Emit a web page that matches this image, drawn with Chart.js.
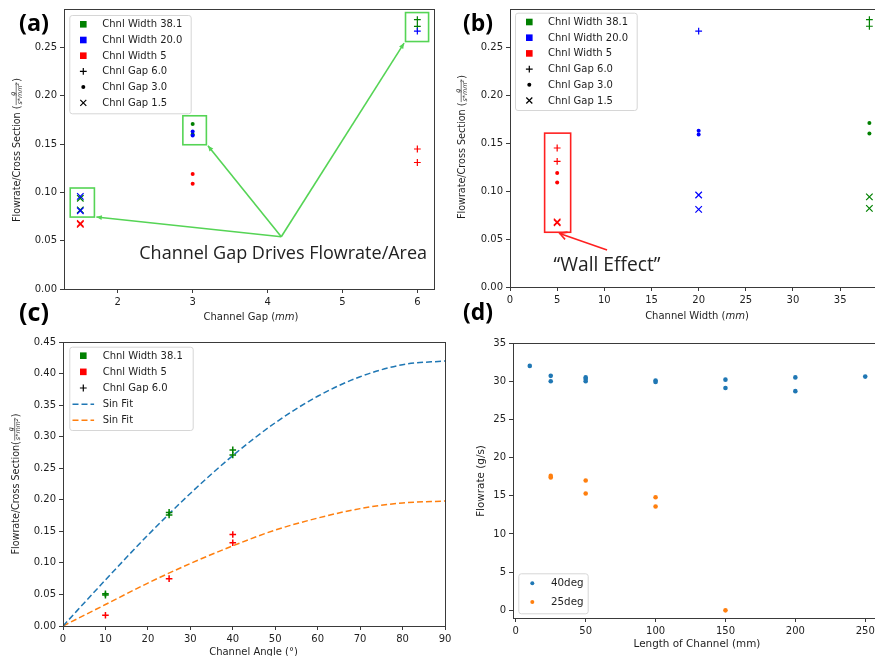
<!DOCTYPE html>
<html><head><meta charset="utf-8">
<script src="https://cdn.jsdelivr.net/npm/chart.js@4.4.1/dist/chart.umd.min.js"></script>
<style>
html,body{margin:0;padding:0;background:#fff;}
body{width:875px;height:656px;overflow:hidden;position:relative;}
canvas{position:absolute;display:block;}
</style></head><body>
<canvas id="ca" width="440" height="330" style="left:0;top:0"></canvas>
<canvas id="cb" width="460" height="330" style="left:440px;top:0"></canvas>
<canvas id="cc" width="460" height="356" style="left:0;top:300px"></canvas>
<canvas id="cd" width="440" height="356" style="left:460px;top:300px"></canvas>
<script>
// ---------------- data ----------------
// panels (a) and (b): flowrate / cross section, per channel width, grouped by channel gap (6.0, 3.0, 1.5)
const widthLabels = ['38.1', '20.0', '5'];
const widthValues = [38.1, 20.0, 5];
const gapLabels = ['6.0', '3.0', '1.5'];
const gapValues = [6.0, 3.0, 1.5];
const fcsW381 = [[0.279, 0.272], [0.171, 0.160], [0.094, 0.082]];
const fcsW20 = [[0.267], [0.163, 0.159], [0.096, 0.081]];
const fcsW5 = [[0.145, 0.131], [0.119, 0.109], [0.068, 0.067]];

// panel (c): flowrate / cross section vs channel angle (gap 6.0)
const angleValues = [10, 25, 40];
const angW381 = [[0.051, 0.049], [0.180, 0.176], [0.279, 0.271]];
const angW5 = [[0.017], [0.075], [0.145, 0.132]];
const fitAngles = [0, 10, 20, 30, 40, 50, 60, 70, 80, 90];
const sinFitW381 = [0, 0.073, 0.144, 0.210, 0.270, 0.322, 0.364, 0.395, 0.414, 0.420];
const sinFitW5 = [0, 0.034, 0.068, 0.099, 0.127, 0.152, 0.171, 0.186, 0.195, 0.198];

// panel (d): flowrate vs length of channel
const len40 = [10, 25, 25, 50, 50, 50, 100, 100, 150, 150, 200, 200, 250];
const flow40 = [32.0, 30.7, 30.0, 30.5, 30.3, 30.0, 30.1, 29.9, 30.2, 29.1, 30.5, 28.7, 30.6];
const len25 = [25, 25, 50, 50, 100, 100, 150];
const flow25 = [17.6, 17.4, 17.0, 15.3, 14.8, 13.6, 0.0];

// ---------------- styles ----------------
const FONT = '"DejaVu Sans", Verdana, sans-serif';
const TXT = '#1e1e1e', AX = '#3a3a3a';
const widthColors = ['#008000', '#0000ff', '#ff0000'];
const gapStyles = ['cross', 'circle', 'crossRot'];
const gapLegendMarks = ['plus', 'dot', 'x'];

function markerOpts(style, color) {
  if (style === 'circle') return {pointStyle: 'circle', pointRadius: 2, borderWidth: 0, pointBorderWidth: 0, backgroundColor: color, borderColor: color};
  if (style === 'cross') return {pointStyle: 'cross', pointRadius: 3.4, borderWidth: 1.2, pointBorderWidth: 1.2, backgroundColor: color, borderColor: color};
  return {pointStyle: 'crossRot', pointRadius: 4.6, borderWidth: 1.2, pointBorderWidth: 1.2, backgroundColor: color, borderColor: color};
}

function axis(min, max, step, fmt, fitKey, fitVal) {
  return {
    type: 'linear', min: min, max: max,
    afterFit: function (s) { s[fitKey] = fitVal; },
    grid: {display: true, drawOnChartArea: false, drawTicks: true, tickLength: 4, color: AX, lineWidth: 1},
    border: {display: true, color: AX, width: 1},
    ticks: {stepSize: step, includeBounds: false, autoSkip: false, maxRotation: 0, minRotation: 0, padding: 3,
      color: TXT, font: {family: FONT, size: 10}, callback: fmt}
  };
}
const f2 = v => Number(v).toFixed(2);
const f0 = v => String(Math.round(v));

// ---------------- drawing helpers ----------------
function drawFrame(chart) {
  const c = chart.ctx, a = chart.chartArea;
  c.save(); c.strokeStyle = AX; c.lineWidth = 1;
  c.strokeRect(Math.round(a.left) + 0.5, Math.round(a.top) + 0.5, Math.round(a.right - a.left), Math.round(a.bottom - a.top));
  c.restore();
}
function drawMark(c, type, color, x, y) {
  c.save(); c.fillStyle = color; c.strokeStyle = color; c.lineWidth = 1.2;
  if (type === 'square') c.fillRect(x - 3.3, y - 3.3, 6.6, 6.6);
  else if (type === 'plus') { c.beginPath(); c.moveTo(x - 3.4, y); c.lineTo(x + 3.4, y); c.moveTo(x, y - 3.4); c.lineTo(x, y + 3.4); c.stroke(); }
  else if (type === 'dot') { c.beginPath(); c.arc(x, y, 2, 0, Math.PI * 2); c.fill(); }
  else if (type === 'x') { c.beginPath(); c.moveTo(x - 3, y - 3); c.lineTo(x + 3, y + 3); c.moveTo(x - 3, y + 3); c.lineTo(x + 3, y - 3); c.stroke(); }
  else if (type === 'dash') { c.lineWidth = 1.5; c.setLineDash([6, 3]); c.beginPath(); c.moveTo(x - 10.8, y); c.lineTo(x + 10.8, y); c.stroke(); }
  c.restore();
}
function roundRect(c, x, y, w, h, r) {
  c.beginPath(); c.moveTo(x + r, y); c.lineTo(x + w - r, y); c.quadraticCurveTo(x + w, y, x + w, y + r);
  c.lineTo(x + w, y + h - r); c.quadraticCurveTo(x + w, y + h, x + w - r, y + h); c.lineTo(x + r, y + h);
  c.quadraticCurveTo(x, y + h, x, y + h - r); c.lineTo(x, y + r); c.quadraticCurveTo(x, y, x + r, y); c.closePath();
}
function drawLegend(c, box, items, markX, textX, row0, step, fontSize) {
  c.save();
  roundRect(c, box[0] + 0.5, box[1] + 0.5, box[2], box[3], 2.5);
  c.fillStyle = 'rgba(255,255,255,0.85)'; c.fill();
  c.strokeStyle = '#d6d6d6'; c.lineWidth = 1; c.stroke();
  c.font = fontSize + 'px ' + FONT; c.fillStyle = TXT; c.textBaseline = 'middle'; c.textAlign = 'left';
  items.forEach((it, i) => {
    const y = row0 + i * step;
    drawMark(c, it.mark, it.color, markX, y);
    c.fillStyle = TXT; c.fillText(it.text, textX, y + 0.5);
  });
  c.restore();
}
function drawTitleParts(c, parts, cx, cy, rotate) {
  c.save(); c.translate(cx, cy); if (rotate) c.rotate(-Math.PI / 2);
  c.fillStyle = TXT; c.textBaseline = 'middle'; c.textAlign = 'left';
  let W = 0;
  parts.forEach(p => { c.font = p.font; W += c.measureText(p.t).width; });
  let x = -W / 2;
  parts.forEach(p => { c.font = p.font; c.fillText(p.t, x, 0); x += c.measureText(p.t).width; });
  c.restore();
}
function drawYTitleFrac(c, main, cx, cy, size) {
  const f = size + 'px ' + FONT, fs = 'italic 6.4px ' + FONT, fsup = 'italic 4.6px ' + FONT;
  c.save(); c.translate(cx, cy); c.rotate(-Math.PI / 2);
  c.fillStyle = TXT; c.strokeStyle = TXT; c.textBaseline = 'middle';
  c.font = f; const wMain = c.measureText(main).width, wP = c.measureText(')').width;
  c.font = fs; const wDen = c.measureText('s*mm').width;
  c.font = fsup; const wSup = c.measureText('2').width;
  const wFrac = wDen + wSup + 2;
  const W = wMain + wFrac + wP;
  let x = -W / 2;
  c.font = f; c.fillText(main, x, 0); x += wMain;
  c.font = fs; c.textAlign = 'center'; c.fillText('g', x + wFrac / 2, -4.6);
  c.textAlign = 'left'; c.fillText('s*mm', x + 1, 2.6);
  c.font = fsup; c.fillText('2', x + 1 + wDen, 0.6);
  c.lineWidth = 0.6; c.beginPath(); c.moveTo(x + 0.5, -1.3); c.lineTo(x + wFrac - 0.5, -1.3); c.stroke();
  x += wFrac;
  c.font = f; c.fillText(')', x, 0);
  c.restore();
}
function fitText(c, text, x, y, width, font, color) {
  c.save(); c.font = font.replace('SIZE', '20px'); const w = c.measureText(text).width;
  c.font = font.replace('SIZE', (20 * width / w).toFixed(2) + 'px');
  c.fillStyle = color; c.textBaseline = 'alphabetic'; c.textAlign = 'left'; c.fillText(text, x, y); c.restore();
}
function arrow(c, x0, y0, x1, y1, color, lw, head, filled) {
  c.save(); c.strokeStyle = color; c.fillStyle = color; c.lineWidth = lw;
  c.beginPath(); c.moveTo(x0, y0); c.lineTo(x1, y1); c.stroke();
  const a = Math.atan2(y1 - y0, x1 - x0), w = filled ? 0.42 : 0.5;
  const p1 = [x1 - head * Math.cos(a - w), y1 - head * Math.sin(a - w)];
  const p2 = [x1 - head * Math.cos(a + w), y1 - head * Math.sin(a + w)];
  c.beginPath(); c.moveTo(p1[0], p1[1]); c.lineTo(x1, y1); c.lineTo(p2[0], p2[1]);
  if (filled) { c.closePath(); c.fill(); } else c.stroke();
  c.restore();
}
function px(chart, x, y) { return [chart.scales.x.getPixelForValue(x), chart.scales.y.getPixelForValue(y)]; }
function boxPx(chart, b, color, lw) {
  const p0 = px(chart, b[0], b[3]), p1 = px(chart, b[1], b[2]);
  const c = chart.ctx; c.save(); c.strokeStyle = color; c.lineWidth = lw;
  c.strokeRect(p0[0], p0[1], p1[0] - p0[0], p1[1] - p0[1]); c.restore();
}
const PANEL_FONT = 'bold SIZE "Open Sans", "Liberation Sans", sans-serif';
const NOTE_FONT = 'SIZE "Open Sans", Lato, sans-serif';

// ---------------- annotations (data units) ----------------
const annoA = {
  boxes: [[1.365, 1.688, 0.0745, 0.1046], [2.869, 3.183, 0.1494, 0.1794], [5.842, 6.15, 0.2563, 0.2863]],
  origin: [4.183, 0.0541], tips: [[1.714, 0.0745], [3.204, 0.1483], [5.823, 0.2547]],
  text: 'Channel Gap Drives Flowrate/Area', at: [2.287, 0.0314], width: 288, color: '#55d455'
};
const annoB = {
  box: [3.67, 6.43, 0.0571, 0.1605], from: [10.29, 0.0386], to: [5.27, 0.0559],
  text: '\u201CWall Effect\u201D', at: [4.62, 0.0172], width: 107, color: '#ff2020'
};

// ---------------- legend items ----------------
const legendAB = widthLabels.map((w, i) => ({mark: 'square', color: widthColors[i], text: 'Chnl Width ' + w}))
  .concat(gapLabels.map((g, j) => ({mark: gapLegendMarks[j], color: '#000', text: 'Chnl Gap ' + g})));
const legendC = [
  {mark: 'square', color: widthColors[0], text: 'Chnl Width ' + widthLabels[0]},
  {mark: 'square', color: widthColors[2], text: 'Chnl Width ' + widthLabels[2]},
  {mark: 'plus', color: '#000', text: 'Chnl Gap ' + gapLabels[0]},
  {mark: 'dash', color: '#1f77b4', text: 'Sin Fit'},
  {mark: 'dash', color: '#ff7f0e', text: 'Sin Fit'}
];
const legendD = [{mark: 'dot', color: '#1f77b4', text: '40deg'}, {mark: 'dot', color: '#ff7f0e', text: '25deg'}];

// ---------------- datasets ----------------
const fcsAll = [fcsW381, fcsW20, fcsW5];
function gapDatasets(useWidthAsX) {
  const out = [];
  [2, 1, 0].forEach(i => {            // red, blue, green (first listed is drawn on top)
    gapValues.forEach((g, j) => {
      out.push(Object.assign({
        label: 'Chnl Width ' + widthLabels[i] + ' / Gap ' + gapLabels[j],
        data: fcsAll[i][j].map(v => ({x: useWidthAsX ? widthValues[i] : g, y: v}))
      }, markerOpts(gapStyles[j], widthColors[i])));
    });
  });
  return out;
}
const baseOpts = (pad, xs, ys) => ({
  responsive: false, animation: false, devicePixelRatio: 1, events: [],
  layout: {padding: pad},
  plugins: {legend: {display: false}, tooltip: {enabled: false}},
  scales: {x: xs, y: ys}
});

// ---------------- panel (a) ----------------
new Chart(document.getElementById('ca'), {
  type: 'scatter',
  data: {datasets: gapDatasets(false)},
  options: baseOpts({left: 0, top: 9, right: 2, bottom: 0},
    axis(1.282, 6.225, 1, f0, 'height', 41), axis(0, 0.29, 0.05, f2, 'width', 64)),
  plugins: [{id: 'decoA', afterDraw(chart) {
    const c = chart.ctx; drawFrame(chart);
    const o = px(chart, annoA.origin[0], annoA.origin[1]);
    annoA.boxes.forEach(b => boxPx(chart, b, annoA.color, 1.6));
    annoA.tips.forEach(t => { const p = px(chart, t[0], t[1]); arrow(c, o[0], o[1], p[0], p[1], annoA.color, 1.6, 6, true); });
    const tp = px(chart, annoA.at[0], annoA.at[1]);
    fitText(c, annoA.text, tp[0], tp[1], annoA.width, NOTE_FONT, '#222');
    drawLegend(c, [69.3, 15, 121.4, 98.3], legendAB, 83.3, 102.3, 24.3, 15.7, 10);
    drawTitleParts(c, [{t: 'Channel Gap (', font: '10px ' + FONT}, {t: 'mm', font: 'italic 10px ' + FONT}, {t: ')', font: '10px ' + FONT}], 251, 317.5, false);
    drawYTitleFrac(c, 'Flowrate/Cross Section (', 17.5, 150, 9.6);
    fitText(c, '(a)', 19, 30.8, 30, PANEL_FONT, '#000');
  }}]
});

// ---------------- panel (b) ----------------
new Chart(document.getElementById('cb'), {
  type: 'scatter',
  data: {datasets: gapDatasets(true)},
  options: baseOpts({left: 0, top: 7, right: 15, bottom: 0},
    axis(0, 39.755, 5, f0, 'height', 43), axis(0, 0.29, 0.05, f2, 'width', 70)),
  plugins: [{id: 'decoB', afterDraw(chart) {
    const c = chart.ctx; drawFrame(chart);
    boxPx(chart, annoB.box, annoB.color, 1.6);
    const p0 = px(chart, annoB.from[0], annoB.from[1]), p1 = px(chart, annoB.to[0], annoB.to[1]);
    arrow(c, p0[0], p0[1], p1[0], p1[1], annoB.color, 1.6, 8, false);
    const tp = px(chart, annoB.at[0], annoB.at[1]);
    fitText(c, annoB.text, tp[0], tp[1], annoB.width, NOTE_FONT, '#222');
    drawLegend(c, [75, 12.7, 121.7, 97.3], legendAB, 89.3, 108, 22, 15.7, 10);
    drawTitleParts(c, [{t: 'Channel Width (', font: '10px ' + FONT}, {t: 'mm', font: 'italic 10px ' + FONT}, {t: ')', font: '10px ' + FONT}], 257, 316, false);
    drawYTitleFrac(c, 'Flowrate/Cross Section (', 22.5, 147, 9.6);
    fitText(c, '(b)', 23, 30.8, 30, PANEL_FONT, '#000');
  }}]
});

// ---------------- panel (c) ----------------
const angAll = [angW381, angW5];
const angColors = [widthColors[0], widthColors[2]];
const dsC = [];
angAll.forEach((arr, k) => {
  dsC.push(Object.assign({
    label: 'Chnl Width ' + (k === 0 ? widthLabels[0] : widthLabels[2]),
    data: [].concat(...arr.map((vals, i) => vals.map(v => ({x: angleValues[i], y: v}))))
  }, markerOpts('cross', angColors[k]), {pointRadius: 3.3, borderWidth: 1.5, pointBorderWidth: 1.5}));
});
[[sinFitW381, '#1f77b4'], [sinFitW5, '#ff7f0e']].forEach(([vals, col]) => {
  dsC.push({label: 'Sin Fit', data: fitAngles.map((a, i) => ({x: a, y: vals[i]})), showLine: true,
    borderColor: col, backgroundColor: col, borderWidth: 1.5, borderDash: [6, 3], pointRadius: 0,
    cubicInterpolationMode: 'monotone', fill: false});
});
new Chart(document.getElementById('cc'), {
  type: 'scatter',
  data: {datasets: dsC},
  options: baseOpts({left: 0, top: 42, right: 15, bottom: 0},
    axis(0, 90, 10, f0, 'height', 30), axis(0, 0.45, 0.05, f2, 'width', 63)),
  plugins: [{id: 'decoC', afterDraw(chart) {
    const c = chart.ctx; drawFrame(chart);
    drawLegend(c, [69.3, 46.7, 123.4, 83.3], legendC, 83.3, 102.7, 55.7, 16.15, 10);
    drawTitleParts(c, [{t: 'Channel Angle (\u00B0)', font: '10px ' + FONT}], 253.5, 352, false);
    drawYTitleFrac(c, 'Flowrate/Cross Section(', 16, 184, 9.6);
    fitText(c, '(c)', 19, 20.8, 30, PANEL_FONT, '#000');
  }}]
});

// ---------------- panel (d) ----------------
new Chart(document.getElementById('cd'), {
  type: 'scatter',
  data: {datasets: [
    {label: '40deg', data: len40.map((l, i) => ({x: l, y: flow40[i]})), pointStyle: 'circle', pointRadius: 2.3, borderWidth: 0, backgroundColor: '#1f77b4', borderColor: '#1f77b4'},
    {label: '25deg', data: len25.map((l, i) => ({x: l, y: flow25[i]})), pointStyle: 'circle', pointRadius: 2.3, borderWidth: 0, backgroundColor: '#ff7f0e', borderColor: '#ff7f0e'}
  ]},
  options: baseOpts({left: 0, top: 43, right: 18, bottom: 0},
    axis(-2, 262, 50, f0, 'height', 38), axis(-1, 35, 5, f0, 'width', 53)),
  plugins: [{id: 'decoD', afterDraw(chart) {
    const c = chart.ctx; drawFrame(chart);
    drawLegend(c, [58.3, 273.3, 69.4, 40], legendD, 72.3, 91, 283.3, 18.7, 10.3);
    drawTitleParts(c, [{t: 'Length of Channel (mm)', font: '10.4px ' + FONT}], 237, 344.3, false);
    drawTitleParts(c, [{t: 'Flowrate (g/s)', font: '10.4px ' + FONT}], 21.7, 181, true);
    fitText(c, '(d)', 3, 19.8, 30, PANEL_FONT, '#000');
  }}]
});
</script>
</body></html>
